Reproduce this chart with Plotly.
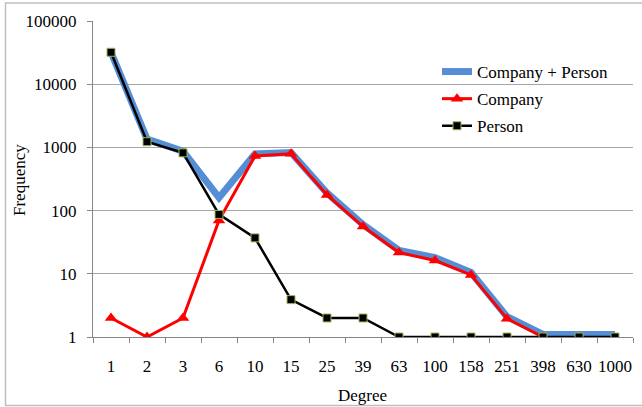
import plotly.graph_objects as go

degrees = ["1", "2", "3", "6", "10", "15", "25", "39", "63", "100", "158", "251", "398", "630", "1000"]
company_person = [32000, 1350, 870, 160, 790, 830, 190, 60, 23.5, 18, 10.5, 2.1, 1.1, 1.1, 1.1]
company = [2, 1, 2, 70, 730, 790, 177, 56, 21.7, 16.2, 9.6, 1.95, 1, None, None]
person = [32000, 1230, 820, 87, 37, 3.9, 2, 2, 1, 1, 1, 1, 1, 1, 1]

y_tickvals = [1, 10, 100, 1000, 10000, 100000]
y_ticktext = ["1", "10", "100", "1000", "10000", "100000"]

FONT = "'Liberation Serif', 'Times New Roman', serif"
FS = 17
fnt = dict(family=FONT, size=FS, color="black")

fig = go.Figure()
fig.add_trace(go.Scatter(x=degrees, y=company_person, name="Company + Person", mode="lines",
                         line=dict(color="#558ED5", width=7), legendgroup="a"))
fig.add_trace(go.Scatter(x=degrees, y=company, name="Company", mode="lines+markers",
                         line=dict(color="#FF0000", width=3),
                         marker=dict(symbol="triangle-up", size=11, color="#FF0000"),
                         legendgroup="b"))
fig.add_trace(go.Scatter(x=degrees, y=person, name="Person", mode="lines+markers",
                         line=dict(color="#000000", width=2.5),
                         marker=dict(symbol="square", size=8, color="#000000",
                                     line=dict(color="#9BBB59", width=1)),
                         legendgroup="c"))

L, R, T, B = 93, 9, 21, 70
W, H = 642, 407
pw, ph = W - L - R, H - T - B

def px(x):
    return (x - L) / pw

def py(y):
    return (H - B - y) / ph

fig.update_layout(
    width=W, height=H,
    margin=dict(l=L, r=R, t=T, b=B, pad=0),
    paper_bgcolor="white", plot_bgcolor="white",
    font=fnt,
    showlegend=True,
    legend=dict(x=px(437), y=py(54), xanchor="left", yanchor="top",
                bgcolor="rgba(0,0,0,0)", font=fnt,
                traceorder="grouped", tracegroupgap=2),
    xaxis=dict(type="category", range=[-0.5, 14.5], showgrid=False, showline=True,
               linecolor="#868686", linewidth=1, ticks="outside", ticklen=5,
               tickcolor="#868686", tickson="boundaries", tickangle=0,
               tickfont=fnt, ticklabelstandoff=14, automargin=False),
    yaxis=dict(type="log", range=[0, 5], tickvals=y_tickvals, ticktext=y_ticktext,
               showgrid=True, gridcolor="#A6A6A6", gridwidth=1,
               showline=True, linecolor="#868686", linewidth=1,
               ticks="outside", ticklen=5, tickcolor="#868686",
               tickfont=fnt, ticklabelstandoff=7, zeroline=False, automargin=False),
    annotations=[
        dict(text="Degree", xref="paper", yref="paper", x=px(362), y=py(395),
             xanchor="center", yanchor="middle", showarrow=False, font=fnt),
        dict(text="Frequency", xref="paper", yref="paper", x=px(19), y=py(180),
             xanchor="center", yanchor="middle", showarrow=False, textangle=-90, font=fnt),
    ],
    shapes=[dict(type="rect", xref="paper", yref="paper",
                 x0=px(5.5), x1=px(648), y0=py(405.5), y1=py(3),
                 line=dict(color="#BFBFBF", width=1.5), layer="below")],
)

fig.write_html("out.html", config={"displayModeBar": False},
               post_script="document.body.style.margin='0';document.body.style.overflow='hidden';")
